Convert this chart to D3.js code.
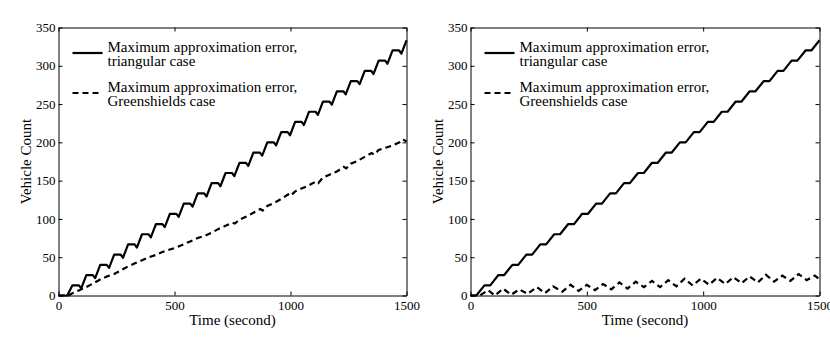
<!DOCTYPE html>
<html>
<head>
<meta charset="utf-8">
<script src="https://cdn.jsdelivr.net/npm/d3@7"></script>
<style>
  body { margin: 0; background: #fff; }
  svg text { font-family: "Liberation Serif", "Times New Roman", "DejaVu Serif", serif; fill: #000; }
  .tick text { font-size: 13px; }
  .tick line, .domain { stroke: #000; }
</style>
</head>
<body>
<div id="chart"></div>
<script>
const width = 830;
const height = 344;
const serif = "Liberation Serif, Times New Roman, DejaVu Serif, serif";

// axis settings
const xTicks = [0, 500, 1000, 1500];
const yTicks = [0, 50, 100, 150, 200, 250, 300, 350];
const legendNames = [
    ["Maximum approximation error,", "triangular case"],
    ["Maximum approximation error,", "Greenshields case"]
];

// left panel: triangular case, [time, count]
const leftTriangular = [
    [0, 0], [38, 0], [60, 13.3], [88, 13.3], [98, 9.3], [120, 26.7], [148, 26.7], [158, 22.7],
    [180, 40], [208, 40], [218, 36], [240, 53.3], [268, 53.3], [278, 49.3], [300, 66.7],
    [328, 66.7], [338, 62.7], [360, 80], [388, 80], [398, 76], [420, 93.3], [448, 93.3],
    [458, 89.3], [480, 106.7], [508, 106.7], [518, 102.7], [540, 120], [568, 120], [578, 116],
    [600, 133.3], [628, 133.3], [638, 129.3], [660, 146.7], [688, 146.7], [698, 142.7],
    [720, 160], [748, 160], [758, 156], [780, 173.3], [808, 173.3], [818, 169.3], [840, 186.7],
    [868, 186.7], [878, 182.7], [900, 200], [928, 200], [938, 196], [960, 213.3], [988, 213.3],
    [998, 209.3], [1020, 226.7], [1048, 226.7], [1058, 222.7], [1080, 240], [1108, 240],
    [1118, 236], [1140, 253.3], [1168, 253.3], [1178, 249.3], [1200, 266.7], [1228, 266.7],
    [1238, 262.7], [1260, 280], [1288, 280], [1298, 276], [1320, 293.3], [1348, 293.3],
    [1358, 289.3], [1380, 306.7], [1408, 306.7], [1418, 302.7], [1440, 320], [1468, 320],
    [1478, 316], [1500, 333.3]
];

// left panel: Greenshields case
const leftGreenshields = [
    [0, 0], [45, 0], [60, 3], [90, 7], [120, 11], [150, 16], [180, 21], [210, 25], [240, 28],
    [270, 33], [300, 38], [330, 42], [360, 46], [390, 50], [420, 53], [450, 57], [480, 60],
    [510, 63], [540, 67], [570, 71], [600, 75], [630, 78], [660, 82], [690, 87], [720, 91],
    [750, 95], [760, 94], [780, 99], [810, 103], [840, 108], [870, 113], [880, 111],
    [900, 117], [930, 121], [960, 126], [990, 132], [1000, 130], [1020, 136], [1050, 140],
    [1080, 144], [1110, 149], [1120, 147], [1140, 154], [1170, 158], [1200, 162],
    [1230, 168], [1240, 166], [1260, 172], [1290, 176], [1320, 181], [1350, 186],
    [1360, 184], [1380, 190], [1410, 193], [1440, 196], [1470, 200], [1485, 204], [1500, 201]
];

// right panel: triangular case
const rightTriangular = [
    [0, 0], [25, 0], [60, 13.3], [85, 13.3], [120, 26.7], [145, 26.7], [180, 40], [205, 40],
    [240, 53.3], [265, 53.3], [300, 66.7], [325, 66.7], [360, 80], [385, 80], [420, 93.3],
    [445, 93.3], [480, 106.7], [505, 106.7], [540, 120], [565, 120], [600, 133.3], [625, 133.3],
    [660, 146.7], [685, 146.7], [720, 160], [745, 160], [780, 173.3], [805, 173.3], [840, 186.7],
    [865, 186.7], [900, 200], [925, 200], [960, 213.3], [985, 213.3], [1020, 226.7],
    [1045, 226.7], [1080, 240], [1105, 240], [1140, 253.3], [1165, 253.3], [1200, 266.7],
    [1225, 266.7], [1260, 280], [1285, 280], [1320, 293.3], [1345, 293.3], [1380, 306.7],
    [1405, 306.7], [1440, 320], [1465, 320], [1500, 333.3]
];

// right panel: Greenshields case
const rightGreenshields = [
    [0, 0], [40, 0], [75, 7], [105, 0], [140, 9], [175, 1], [210, 8], [245, 2], [285, 11],
    [320, 3], [355, 12], [395, 5], [430, 14], [465, 6], [500, 14], [535, 7], [570, 15],
    [605, 8], [640, 17], [675, 9], [710, 18], [745, 11], [780, 19], [815, 11], [850, 20],
    [885, 12], [920, 22], [955, 13], [990, 22], [1025, 14], [1060, 23], [1095, 15],
    [1130, 24], [1165, 16], [1200, 25], [1235, 17], [1270, 27], [1305, 18], [1340, 26],
    [1375, 19], [1410, 28], [1445, 20], [1480, 26], [1500, 21]
];

const svg = d3.select("#chart")
    .append("svg")
    .attr("width", width)
    .attr("height", height);

const plotTop = 27.5;
const plotBottom = 295.5;

function drawPanel(left, right, labelX, triData, greenData) {
    const x = d3.scaleLinear().domain([0, 1500]).range([left, right]);
    const y = d3.scaleLinear().domain([0, 350]).range([plotBottom, plotTop]);
    const g = svg.append("g");

    g.append("g")
        .attr("transform", `translate(0,${plotBottom})`)
        .call(d3.axisBottom(x).tickValues(xTicks).tickFormat(d3.format("d"))
            .tickSizeInner(-4).tickSizeOuter(0).tickPadding(5));
    g.append("g")
        .attr("transform", `translate(0,${plotTop})`)
        .call(d3.axisTop(x).tickValues(xTicks).tickSizeInner(-4).tickSizeOuter(0).tickFormat(""));
    g.append("g")
        .attr("transform", `translate(${left},0)`)
        .call(d3.axisLeft(y).tickValues(yTicks).tickFormat(d3.format("d"))
            .tickSizeInner(-4).tickSizeOuter(0).tickPadding(3));
    g.append("g")
        .attr("transform", `translate(${right},0)`)
        .call(d3.axisRight(y).tickValues(yTicks).tickSizeInner(-4).tickSizeOuter(0).tickFormat(""));
    g.selectAll("g").attr("font-family", serif).attr("font-size", 13);

    const line = d3.line().x((d) => x(d[0])).y((d) => y(d[1]));
    g.append("path")
        .datum(greenData)
        .attr("fill", "none")
        .attr("stroke", "#000")
        .attr("stroke-width", 2.2)
        .attr("stroke-dasharray", "6,4")
        .attr("d", line);
    g.append("path")
        .datum(triData)
        .attr("fill", "none")
        .attr("stroke", "#000")
        .attr("stroke-width", 2.2)
        .attr("stroke-linejoin", "round")
        .attr("d", line);

    // axis titles
    g.append("text")
        .attr("x", (left + right) / 2)
        .attr("y", 325)
        .attr("text-anchor", "middle")
        .attr("font-family", serif)
        .attr("font-size", 15)
        .text("Time (second)");
    g.append("text")
        .attr("transform", `translate(${labelX},${(plotTop + plotBottom) / 2}) rotate(-90)`)
        .attr("text-anchor", "middle")
        .attr("font-family", serif)
        .attr("font-size", 15)
        .text("Vehicle Count");

    // legend
    const lx = left + 14;
    const rows = [53, 93];
    legendNames.forEach((names, i) => {
        g.append("line")
            .attr("x1", lx).attr("x2", lx + 30)
            .attr("y1", rows[i]).attr("y2", rows[i])
            .attr("stroke", "#000")
            .attr("stroke-width", 2.2)
            .attr("stroke-dasharray", i == 1 ? "6,4" : null);
        names.forEach((t, j) => {
            g.append("text")
                .attr("x", lx + 35)
                .attr("y", rows[i] - 1 + j * 14)
                .attr("font-family", serif)
                .attr("font-size", 15)
                .text(t);
        });
    });
}

drawPanel(58.5, 406.5, 31, leftTriangular, leftGreenshields);
drawPanel(470.5, 819.5, 443, rightTriangular, rightGreenshields);
</script>
</body>
</html>
